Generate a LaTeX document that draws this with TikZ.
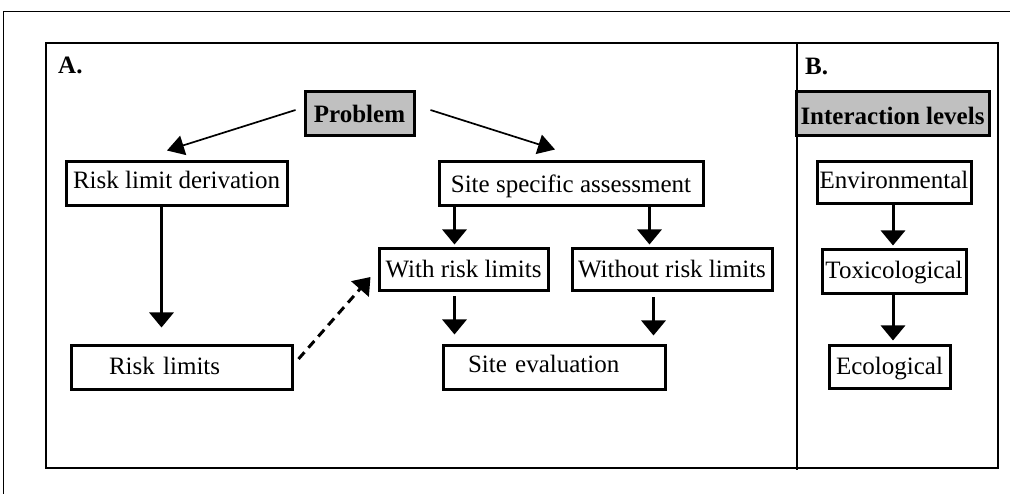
\documentclass[tikz,border=0pt]{standalone}
\usepackage{fontspec}
\setmainfont{Liberation Serif}
\usetikzlibrary{arrows.meta,calc}
\definecolor{boxgray}{HTML}{C0C0C0}
\tikzset{
  box/.style={draw, line width=3pt, fill=white, inner sep=0pt, minimum height=44pt,
    font=\fontsize{25}{28}\selectfont},
  graybox/.style={box, fill=boxgray, font=\fontsize{25}{28}\selectfont\bfseries},
  thickarrow/.style={line width=3pt, -{Triangle[length=15pt,width=24pt]}},
  thinarrow/.style={line width=1.7pt, -{Triangle[length=17pt,width=20pt]}},
  dasharrow/.style={line width=3pt, dash pattern=on 9pt off 6pt, -{Triangle[length=16pt,width=23pt]}},
  panellabel/.style={anchor=base west, inner sep=0pt, font=\fontsize{25}{28}\selectfont\bfseries},
  bl/.style 2 args={text height=#1, text depth=#2},
}
\begin{document}
\begin{tikzpicture}[x=1pt,y=-1pt]
\useasboundingbox (0,0) rectangle (1010,494);
% outer frame
\draw[line width=1pt] (3,494) -- (3,12) -- (1010,12);
% inner frame
\draw[line width=2pt] (46,43) rectangle (998,468);
\draw[line width=2pt] (797,43) -- (797,470);
% labels
\node[panellabel] (labA) at (58,74) {A.};
\node[panellabel] (labB) at (805,75) {B.};
% panel A nodes
\node[graybox, minimum width=109pt, bl={20pt}{2pt}] (prob) at (359.5,114) {Problem};
\node[box, minimum width=221pt, bl={16pt}{6pt}] (rld) at (176.5,184) {Risk limit derivation};
\node[box, minimum width=264pt, bl={20pt}{2pt}] (ssa) at (571,184) {Site specific assessment};
\node[box, minimum width=169pt, minimum height=42pt, bl={19pt}{3pt}] (wrl) at (463.5,270) {With risk limits};
\node[box, minimum width=200pt, minimum height=42pt, bl={19pt}{3pt}] (worl) at (672,270) {Without risk limits};
\node[box, minimum width=222pt, text width=172pt, align=left, bl={16pt}{6pt}] (se) at (554,368) {Site evaluation};
\node[box, minimum width=221pt, text width=145pt, align=left, bl={18pt}{4pt}] (rl) at (181.5,368) {Risk limits};
% panel B nodes
\node[graybox, minimum width=193pt, bl={22pt}{0pt}] (il) at (892.5,114) {Interaction levels};
\node[box, minimum width=154pt, minimum height=42pt, bl={17pt}{5pt}] (env) at (894,183) {Environmental};
\node[box, minimum width=144pt, bl={18pt}{4pt}] (tox) at (894,272) {Toxicological};
\node[box, minimum width=121pt, minimum height=43pt, bl={18.5pt}{3.5pt}] (eco) at (889.5,367.5) {Ecological};
% connectors panel A
\draw[thinarrow] ($(prob.west)+(-8,-4)$) -- ($(rld.north)+(-9.5,-10)$);
\draw[thinarrow] ($(prob.east)+(15,-4)$) -- ($(ssa.north)+(-16,-11)$);
\draw[thickarrow] ($(ssa.south west)+(17,0)$) -- ($(wrl.north west)+(77,-3)$);
\draw[thickarrow] ($(ssa.south west)+(212,0)$) -- ($(worl.north west)+(79,-3)$);
\draw[thickarrow] ($(wrl.south west)+(77,4)$) -- ($(se.north west)+(13,-10)$);
\draw[thickarrow] ($(worl.south west)+(83,5)$) -- ($(se.north west)+(212,-9)$);
\draw[thickarrow] ($(rld.south west)+(97,0)$) -- ($(rl.north west)+(92,-17)$);
\draw[dasharrow] ($(rl.east)+(5,-9)$) -- ($(wrl.west)+(-7,7)$);
% connectors panel B
\draw[thickarrow] ($(env.south)+(-1,0)$) -- ($(tox.north)+(-1,-3)$);
\draw[thickarrow] ($(tox.south)+(-1,0)$) -- ($(eco.north)+(3.5,-4)$);
\end{tikzpicture}
\end{document}
